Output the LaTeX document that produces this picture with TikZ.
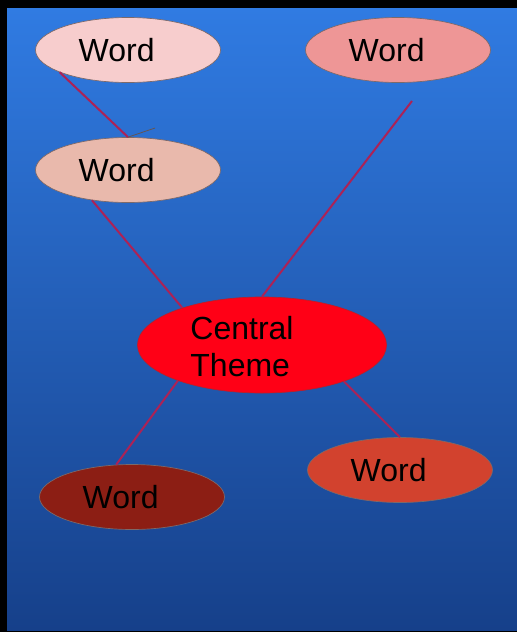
\documentclass[tikz,border=0pt]{standalone}
\usepackage{fontspec}
\setmainfont{Liberation Sans}
\usetikzlibrary{shapes.geometric}

\definecolor{bgtop}{RGB}{48,123,226}
\definecolor{bgbottom}{RGB}{22,64,138}
\definecolor{linkred}{RGB}{172,34,86}
\definecolor{rimgrey}{RGB}{125,105,105}

\tikzset{
  bubble/.style={ellipse, draw=rimgrey, line width=0.5pt, minimum width=138.75pt, minimum height=48.75pt, inner sep=0pt},
  bubbletext/.style={font=\fontsize{24}{27.75}\selectfont, text=black, inner sep=0pt, xshift=-8.5pt},
  link/.style={draw=linkred, line width=1.5pt},
}

\begin{document}
\begin{tikzpicture}[x=0.75pt,y=0.75pt,yscale=-1,xscale=1]
\useasboundingbox (0,0) rectangle (517,632);

% background
\fill [black] (0,0) rectangle (517,632);
\shade [top color=bgtop, bottom color=bgbottom] (7,8) rectangle (517,630);

% bubbles
\node [bubble, fill={rgb, 255:red, 247; green, 205; blue, 205 }, label={[bubbletext]center:Word}] (w1) at (128,50) {};
\node [bubble, fill={rgb, 255:red, 238; green, 150; blue, 150 }, label={[bubbletext]center:Word}] (w2) at (398,50) {};
\node [bubble, fill={rgb, 255:red, 233; green, 185; blue, 172 }, label={[bubbletext]center:Word}] (w3) at (128,170) {};
\node [bubble, draw={rgb, 255:red, 190; green, 30; blue, 40 }, fill={rgb, 255:red, 255; green, 0; blue, 22 }, minimum width=186.75pt, minimum height=72pt, label={[bubbletext, align=left, xshift=-6.5pt, yshift=-1pt]center:Central\\Theme}] (central) at (262,345) {};
\node [bubble, fill={rgb, 255:red, 140; green, 30; blue, 20 }, label={[bubbletext]center:Word}] (w4) at (132,497) {};
\node [bubble, fill={rgb, 255:red, 210; green, 66; blue, 46 }, label={[bubbletext]center:Word}] (w5) at (400,470) {};

\coordinate (w2tail) at (412,101);
\coordinate (stub) at (155,128);

% connectors
\draw [link] (w1.198) -- (w3.north) ;
\draw [rimgrey!80!black, line width=0.6pt] (w3.north) -- (stub) ;
\draw [link] (w3.220) -- (central.155) ;
\draw [link] (w2tail) -- (central.north) ;
\draw [link] (central.203) -- (w4.116) ;
\draw [link] (central.336) -- (w5.north) ;

\end{tikzpicture}
\end{document}
